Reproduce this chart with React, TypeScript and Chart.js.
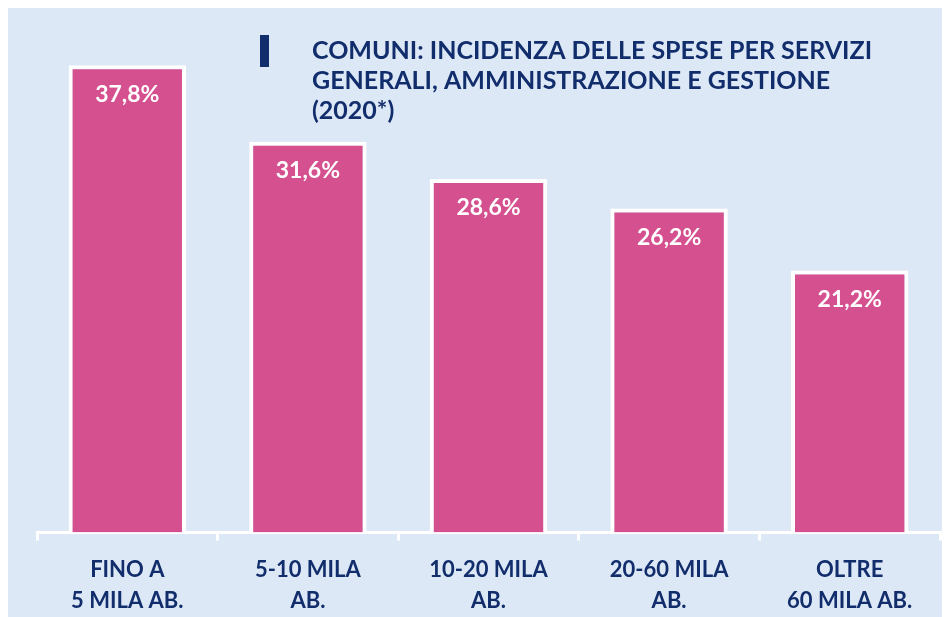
import React, { useEffect, useRef } from "react";
import { Chart, registerables } from "chart.js";

Chart.register(...registerables);

const categories: string[][] = [
  ["FINO A", "5 MILA AB."],
  ["5-10 MILA", "AB."],
  ["10-20 MILA", "AB."],
  ["20-60 MILA", "AB."],
  ["OLTRE", "60 MILA AB."],
];
const values: number[] = [37.8, 31.6, 28.6, 26.2, 21.2];
const titleLines: string[] = [
  "COMUNI: INCIDENZA DELLE SPESE PER SERVIZI",
  "GENERALI, AMMINISTRAZIONE E GESTIONE",
  "(2020*)",
];

const NAVY = "#112d6b";
const PINK = "#d5508f";
const BG = "#dde8f6";
const FONT = "Lato, 'Open Sans', sans-serif";

const fmt = (v: number) => v.toFixed(1).replace(".", ",") + "%";

const overlayPlugin = {
  id: "overlay",
  afterDatasetsDraw(chart: any) {
    const ctx = chart.ctx;
    const meta = chart.getDatasetMeta(0);
    ctx.save();
    ctx.fillStyle = "#ffffff";
    ctx.font = `bold 23px ${FONT}`;
    ctx.textAlign = "center";
    ctx.textBaseline = "middle";
    meta.data.forEach((bar: any, i: number) => {
      ctx.fillText(fmt(values[i]), bar.x, bar.y + 29);
    });
    // title marker
    ctx.fillStyle = NAVY;
    ctx.fillRect(252, 27, 9, 32);
    ctx.font = `bold 25px ${FONT}`;
    ctx.textAlign = "left";
    titleLines.forEach((line, i) => {
      ctx.fillText(line, 304, 43 + i * 30);
    });
    ctx.restore();
  },
};

export default function App() {
  const ref = useRef<HTMLCanvasElement>(null);
  useEffect(() => {
    if (!ref.current) return;
    const chart = new Chart(ref.current, {
      type: "bar",
      data: {
        labels: categories,
        datasets: [
          {
            data: values,
            backgroundColor: PINK,
            borderColor: "#ffffff",
            borderWidth: 4,
            borderSkipped: "bottom",
            categoryPercentage: 1,
            barPercentage: 0.65,
          },
        ],
      },
      options: {
        responsive: false,
        animation: false,
        layout: { padding: { left: 29, right: 10, top: 30, bottom: -14 } },
        plugins: {
          legend: { display: false },
          tooltip: { enabled: false },
          title: { display: false },
        },
        scales: {
          y: {
            display: false,
            min: 0,
            max: 40,
          },
          x: {
            grid: {
              display: true,
              drawOnChartArea: false,
              drawTicks: true,
              tickLength: 8,
              color: "#ffffff",
              lineWidth: 3,
              offset: true,
            },
            border: { display: true, color: "#ffffff", width: 3 },
            ticks: {
              color: NAVY,
              font: { family: FONT, size: 22, weight: "bold", lineHeight: 1.42 },
              padding: 14,
              maxRotation: 0,
            },
          },
        },
      },
      plugins: [overlayPlugin],
    });
    return () => chart.destroy();
  }, []);
  return (
    <canvas
      ref={ref}
      width={942}
      height={609}
      style={{ display: "block", width: 942, height: 609, background: BG }}
    />
  );
}
